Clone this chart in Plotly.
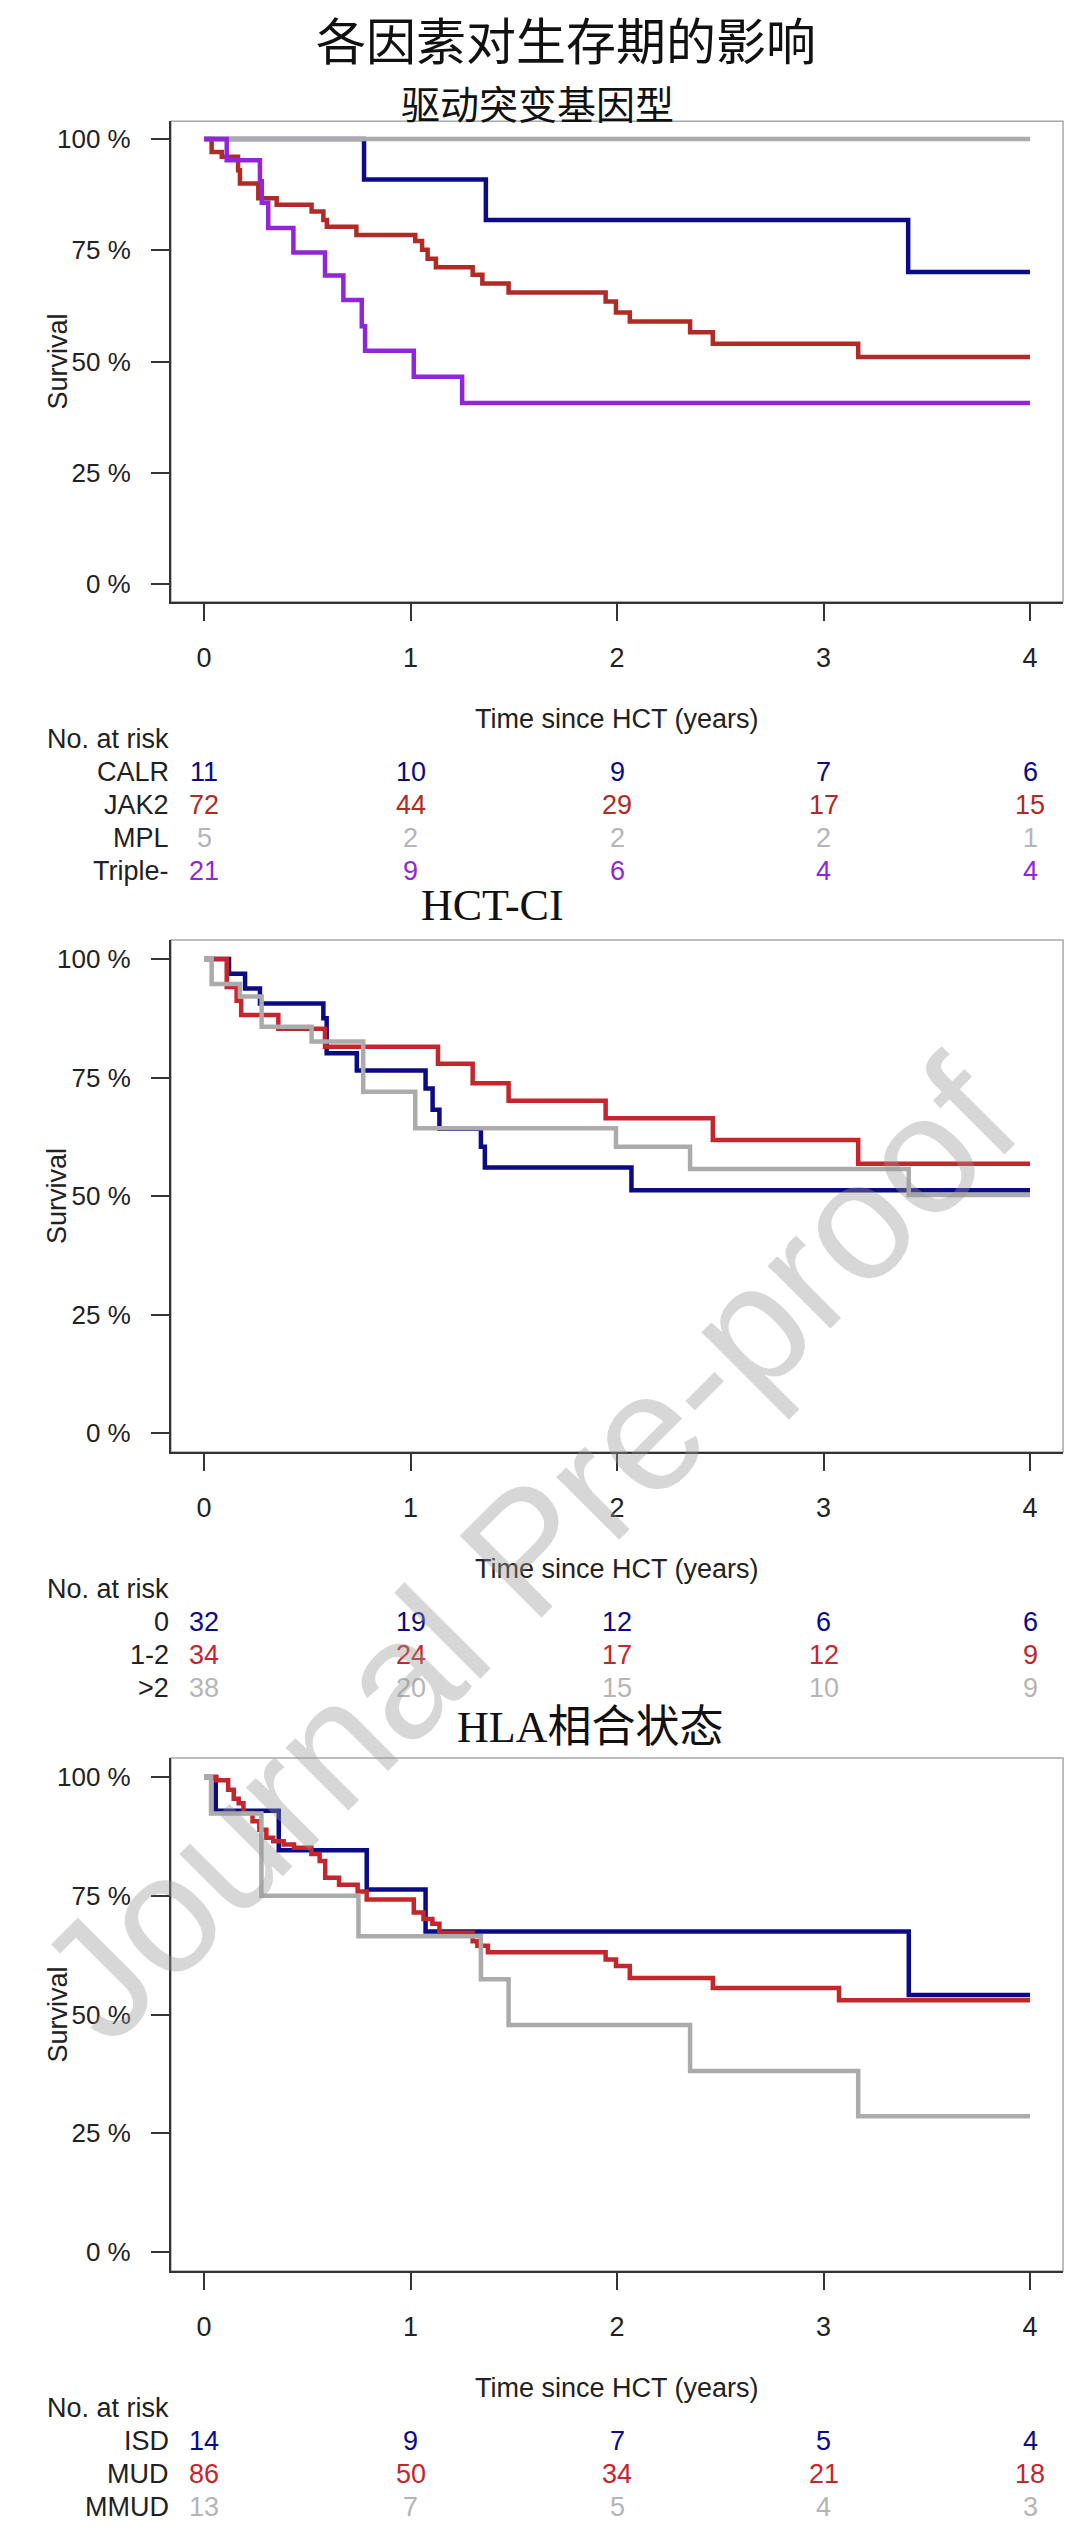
import plotly.graph_objects as go

# ---------------- data ----------------
# Panel 1: driver mutation
calr_t = [0, 0.775, 1.365, 3.41, 4.0]
calr_s = [100, 90.9, 81.8, 70.1, 70.1]
jak2_t = [0, 0.037, 0.086, 0.165, 0.174, 0.263, 0.352, 0.521, 0.578, 0.595, 0.738, 1.023, 1.056,
          1.083, 1.123, 1.301, 1.348, 1.475, 1.945, 1.995, 2.062, 2.354, 2.464, 3.168, 4.0]
jak2_s = [100, 97.1, 96.0, 93.0, 90.0, 86.7, 85.2, 83.7, 81.8, 80.3, 78.4, 77.1, 75.1,
          73.1, 71.2, 69.5, 67.5, 65.5, 63.5, 61.0, 59.0, 56.6, 54.0, 51.0, 51.0]
mpl_t = [0, 4.0]
mpl_s = [100, 100]
trip_t = [0, 0.11, 0.271, 0.28, 0.311, 0.433, 0.586, 0.675, 0.764, 0.78, 1.016, 1.25, 4.0]
trip_s = [100, 95.2, 90.5, 85.7, 80.0, 74.5, 69.3, 63.8, 57.9, 52.4, 46.6, 40.7, 40.7]

# Panel 2: HCT-CI
h0_t = [0, 0.121, 0.199, 0.271, 0.578, 0.594, 0.74, 1.073, 1.107, 1.14, 1.341, 1.36, 2.07, 4.0]
h0_s = [100, 96.9, 93.8, 90.6, 87.5, 80.1, 76.5, 72.7, 68.2, 64.2, 60.4, 56.0, 51.2, 51.2]
h12_t = [0, 0.11, 0.158, 0.18, 0.36, 0.586, 1.133, 1.301, 1.475, 1.945, 2.464, 3.168, 4.0]
h12_s = [100, 94.1, 91.2, 88.2, 85.3, 81.5, 77.9, 73.8, 70.1, 66.4, 61.8, 56.8, 56.8]
h2_t = [0, 0.037, 0.174, 0.279, 0.521, 0.771, 1.023, 1.995, 2.354, 3.413, 4.0]
h2_s = [100, 94.7, 92.1, 85.7, 82.6, 72.0, 64.3, 60.4, 55.7, 50.2, 50.2]

# Panel 3: HLA match
isd_t = [0, 0.057, 0.362, 0.788, 1.073, 3.413, 4.0]
isd_s = [100, 92.9, 84.6, 76.3, 67.5, 54.1, 54.1]
mud_t = [0, 0.06, 0.117, 0.144, 0.168, 0.191, 0.235, 0.268, 0.302, 0.335, 0.386, 0.436, 0.52, 0.56,
         0.587, 0.654, 0.744, 0.788, 1.016, 1.063, 1.106, 1.14, 1.301, 1.324, 1.375, 1.945, 1.995,
         2.062, 2.464, 3.075, 4.0]
mud_s = [100, 99.3, 97.3, 95.4, 94.5, 92.4, 90.7, 88.9, 87.2, 86.5, 85.8, 85.1, 83.8, 82.3,
         78.8, 77.3, 75.9, 74.2, 71.5, 70.1, 69.1, 67.2, 65.4, 64.5, 63.1, 61.6, 60.2,
         57.7, 55.6, 53.0, 53.0]
mmud_t = [0, 0.034, 0.278, 0.748, 1.341, 1.475, 2.354, 3.168, 4.0]
mmud_s = [100, 92.3, 75.0, 66.5, 57.4, 47.8, 38.1, 28.6, 28.6]

# risk tables
risk_times = [0, 1, 2, 3, 4]
p1_groups = ["CALR", "JAK2", "MPL", "Triple-"]
p1_risk = [[11, 10, 9, 7, 6], [72, 44, 29, 17, 15], [5, 2, 2, 2, 1], [21, 9, 6, 4, 4]]
p2_groups = ["0", "1-2", ">2"]
p2_risk = [[32, 19, 12, 6, 6], [34, 24, 17, 12, 9], [38, 20, 15, 10, 9]]
p3_groups = ["ISD", "MUD", "MMUD"]
p3_risk = [[14, 9, 7, 5, 4], [86, 50, 34, 21, 18], [13, 7, 5, 4, 3]]

x_ticks = [0, 1, 2, 3, 4]
y_ticks = [0, 25, 50, 75, 100]
y_ticktext = ["0 %", "25 %", "50 %", "75 %", "100 %"]

main_title = "各因素对生存期的影响"
panel_titles = ["驱动突变基因型", "HCT-CI", "HLA相合状态"]
watermark = "Journal Pre-proof"

# ---------------- styling ----------------
W, H = 1080, 2526
NAVY = "#0b0b85"
BRICK = "#b02a26"
RED = "#c4262c"
GRAY = "#ababab"
PURPLE = "#9126d8"
TXT = "#222222"
SANS = "Liberation Sans, Arial, sans-serif"
CJK = "Noto Sans CJK SC, sans-serif"
SERIF = "Liberation Serif, Noto Sans CJK SC, serif"


def py(px):
    return 1 - px / H


# panel pixel geometry: (y of 100%, y of 0%)
panels = [(139.0, 584.0), (959.0, 1433.0), (1777.0, 2252.0)]
x0px, x4px = 204.0, 1030.0
xr = [-0.16, 4.16]
yr = [-4, 104]
ppx = (x4px - x0px) / 4
xdom = [(x0px + xr[0] * ppx) / W, (x0px + xr[1] * ppx) / W]

series = [
    [(calr_t, calr_s, NAVY), (jak2_t, jak2_s, BRICK), (mpl_t, mpl_s, GRAY), (trip_t, trip_s, PURPLE)],
    [(h0_t, h0_s, NAVY), (h12_t, h12_s, RED), (h2_t, h2_s, GRAY)],
    [(isd_t, isd_s, NAVY), (mud_t, mud_s, RED), (mmud_t, mmud_s, GRAY)],
]
tables = [
    (p1_groups, p1_risk, [NAVY, BRICK, "#b5b5b5", PURPLE]),
    (p2_groups, p2_risk, [NAVY, RED, "#b5b5b5"]),
    (p3_groups, p3_risk, [NAVY, RED, "#b5b5b5"]),
]

fig = go.Figure()
annotations = []
shapes = []
layout_axes = {}

for i, ((p100, p0), ser, tab) in enumerate(zip(panels, series, tables)):
    k = "" if i == 0 else str(i + 1)
    pp = (p0 - p100) / 100.0
    bot = p0 - yr[0] * pp
    top = p0 - yr[1] * pp
    for t, s, c in ser:
        fig.add_trace(go.Scatter(x=t, y=s, mode="lines", line=dict(color=c, width=4.5, shape="hv"),
                                 xaxis="x" + k, yaxis="y" + k, showlegend=False, hoverinfo="skip"))
    layout_axes["xaxis" + k] = dict(
        domain=xdom, range=xr, anchor="y" + k, tickvals=x_ticks, ticktext=[str(v) for v in x_ticks],
        ticks="outside", ticklen=17, tickwidth=2, tickcolor="#333333", showline=True,
        linecolor="#333333", linewidth=2, showgrid=False, zeroline=False,
        tickfont=dict(family=SANS, size=27, color=TXT), ticklabelstandoff=14)
    layout_axes["yaxis" + k] = dict(
        domain=[py(bot), py(top)], range=yr, anchor="x" + k, tickvals=y_ticks, ticktext=y_ticktext,
        ticks="outside", ticklen=18, tickwidth=2, tickcolor="#333333", showline=True,
        linecolor="#333333", linewidth=2, showgrid=False, zeroline=False,
        tickfont=dict(family=SANS, size=26, color=TXT), ticklabelstandoff=15)
    # gray frame (top/right)
    shapes.append(dict(type="rect", xref="x" + k + " domain", yref="y" + k + " domain",
                       x0=0, x1=1, y0=0, y1=1, line=dict(color="#a8a8a8", width=1.5), layer="below"))
    # y title
    annotations.append(dict(text="Survival", x=57 / W, xref="paper", y=50, yref="y" + k,
                            textangle=-90, showarrow=False, xanchor="center", yanchor="middle",
                            font=dict(family=SANS, size=27, color=TXT)))
    # x title
    annotations.append(dict(text="Time since HCT (years)", x=2, xref="x" + k, y=py(bot + 117),
                            yref="paper", showarrow=False, xanchor="center", yanchor="middle",
                            font=dict(family=SANS, size=27, color=TXT)))
    annotations.append(dict(text="No. at risk", x=171 / W, xref="paper", y=py(bot + 137),
                            yref="paper", showarrow=False, xanchor="right", yanchor="middle",
                            font=dict(family=SANS, size=27, color=TXT)))
    groups, risk, cols = tab
    for r, (g, vals, c) in enumerate(zip(groups, risk, cols)):
        yy = py(bot + 170 + 33 * r)
        annotations.append(dict(text=g, x=171 / W, xref="paper", y=yy, yref="paper",
                                showarrow=False, xanchor="right", yanchor="middle",
                                font=dict(family=SANS, size=27, color=TXT)))
        for tt, v in zip(risk_times, vals):
            annotations.append(dict(text=str(v), x=tt, xref="x" + k, y=yy, yref="paper",
                                    showarrow=False, xanchor="center", yanchor="middle",
                                    font=dict(family=SANS, size=27, color=c)))

# titles
annotations.append(dict(text=main_title, x=566 / W, y=1.0, xref="paper", yref="paper",
                        showarrow=False, xanchor="center", yanchor="top",
                        font=dict(family=CJK, size=50, color="#111111")))
annotations.append(dict(text=panel_titles[0], x=537 / W, y=py(72.5), xref="paper", yref="paper",
                        showarrow=False, xanchor="center", yanchor="top",
                        font=dict(family=CJK, size=39, color="#111111")))
annotations.append(dict(text=panel_titles[1], x=492 / W, y=py(906), xref="paper", yref="paper",
                        showarrow=False, xanchor="center", yanchor="middle",
                        font=dict(family=SERIF, size=44, color="#111111")))
annotations.append(dict(text=panel_titles[2], x=590 / W, y=py(1728), xref="paper", yref="paper",
                        showarrow=False, xanchor="center", yanchor="middle",
                        font=dict(family=SERIF, size=44, color="#111111")))

# watermark
annotations.append(dict(text=watermark, x=527 / W, y=py(1550), xref="paper", yref="paper",
                        showarrow=False, xanchor="center", yanchor="middle", textangle=-45,
                        font=dict(family=SANS, size=168, color="rgba(150,150,150,0.38)")))

fig.update_layout(width=W, height=H, margin=dict(l=0, r=0, t=0, b=0),
                  paper_bgcolor="white", plot_bgcolor="white",
                  annotations=annotations, shapes=shapes, **layout_axes)

fig.write_html("out.html", config={"displayModeBar": False},
               post_script="document.body.style.margin='0';")
